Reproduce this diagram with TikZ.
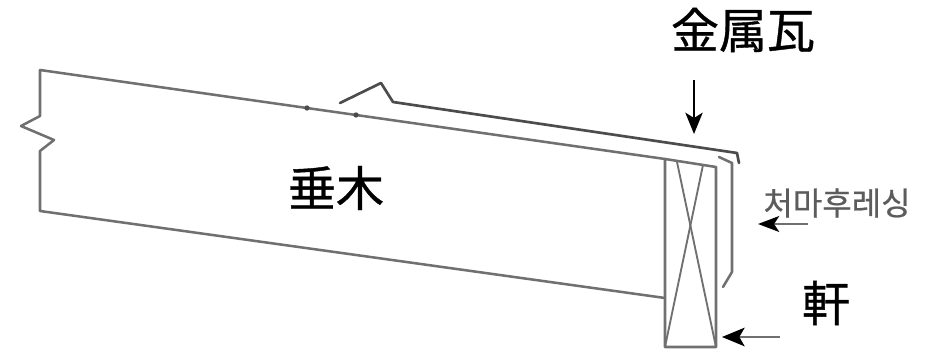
\documentclass[tikz,border=0pt]{standalone}
\usepackage{fontspec}
\usetikzlibrary{arrows.meta}
\newfontfamily\cjk[FakeBold=0.8]{Noto Sans CJK JP}
\newfontfamily\krfont[FakeBold=0.7]{Noto Sans CJK KR}
\definecolor{linegrey}{HTML}{707070}
\definecolor{darkgrey}{HTML}{4C4C4C}
\definecolor{krgrey}{HTML}{5C5C5C}
\tikzset{
  part/.style={draw=linegrey,line width=1.9pt,line join=round,line cap=round},
  darkpart/.style={draw=darkgrey,line width=2pt,line join=round,line cap=round},
  thinpart/.style={draw=linegrey,line width=1.4pt,line join=round,line cap=round},
  pointer/.style={draw=black,line width=1.3pt,-{Stealth[length=16pt,width=13pt,inset=4pt]}},
  softpointer/.style={draw=linegrey,line width=1.3pt,-{Stealth[length=16pt,width=12pt,inset=4pt,color=black]}},
  bigsoftpointer/.style={draw=linegrey,line width=1.3pt,-{Stealth[length=17pt,width=14pt,inset=4pt,color=black]}},
  bigtext/.style={font=\cjk\fontsize{36pt}{40pt}\selectfont,text=black,inner sep=0pt},
  krtext/.style={font=\krfont\fontsize{24pt}{26pt}\selectfont,text=krgrey,inner sep=0pt},
  dot/.style={circle,fill=darkgrey,inner sep=0pt,minimum size=4pt}
}
\begin{document}
\begin{tikzpicture}[x=0.75pt,y=-0.75pt]
\useasboundingbox (0,0) rectangle (925,352);
% rafter
\draw[part] (665,159) -- (40,70) -- (40,116) -- (21,126) -- (54,140) -- (40,151) -- (40,211) -- (665,298);
\node[dot] (d1) at (307,108) {};
\node[dot] (d2) at (356,115) {};
% eave beam
\draw[part] (665,159) -- (716,167) -- (716,347) -- (665,347) -- cycle;
\draw[thinpart] (677,162) -- (716,347);
\draw[thinpart] (703,165) -- (665,347);
% metal roofing
\draw[darkpart] (340,103) -- (381,83) -- (393,102) -- (737,153) -- (739,163);
% flashing
\draw[part] (719,157) -- (732,163) -- (732,272) -- (723,287);
% labels
\node[bigtext] (metal) at (743,30) {金属瓦};
\node[bigtext] (rafter) at (336,188) {垂木};
\node[bigtext] (eave) at (826,303) {軒};
\node[krtext] (flash) at (837,203) {처마후레싱};
% arrows
\coordinate (metalfrom) at (694,80);
\coordinate (metalto) at (694,134);
\draw[pointer] (metalfrom) -- (metalto);
\coordinate (flashfrom) at (808,224);
\coordinate (flashto) at (758,224);
\draw[softpointer] (flashfrom) -- (flashto);
\coordinate (eavefrom) at (780,337);
\coordinate (eaveto) at (722,337);
\draw[bigsoftpointer] (eavefrom) -- (eaveto);
\end{tikzpicture}
\end{document}
